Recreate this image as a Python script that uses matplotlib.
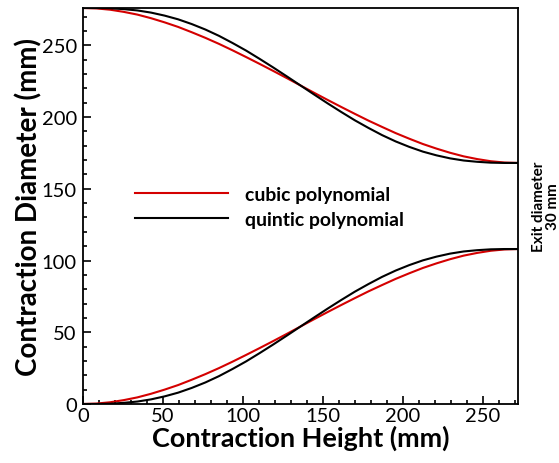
import matplotlib
matplotlib.use("Agg")
import matplotlib.pyplot as plt
from matplotlib.ticker import MultipleLocator

# ── values (mm) ──
height = [0, 8.5, 17, 25.5, 34, 42.5, 51, 59.5, 68, 76.5, 85, 93.5, 102, 110.5,
          119, 127.5, 136, 144.5, 153, 161.5, 170, 178.5, 187, 195.5, 204,
          212.5, 221, 229.5, 238, 246.5, 255, 263.5, 272]

cubic_upper = [276.0, 275.7, 274.8, 273.3, 271.4, 268.9, 266.0, 262.8, 259.1,
               255.2, 251.0, 246.5, 241.8, 237.0, 232.1, 227.1, 222.0, 216.9,
               211.9, 207.0, 202.2, 197.5, 193.1, 188.8, 184.9, 181.2, 178.0,
               175.1, 172.6, 170.7, 169.2, 168.3, 168.0]
quintic_upper = [276.0, 276.0, 275.8, 275.2, 274.3, 272.8, 270.7, 268.1, 264.8,
                 261.0, 256.6, 251.6, 246.3, 240.5, 234.5, 228.3, 222.0, 215.7,
                 209.5, 203.5, 197.7, 192.4, 187.4, 183.0, 179.2, 175.9, 173.3,
                 171.2, 169.7, 168.8, 168.2, 168.0, 168.0]
cubic_lower = [0.0, 0.3, 1.2, 2.7, 4.6, 7.1, 10.0, 13.2, 16.9, 20.8, 25.0, 29.5,
               34.2, 39.0, 43.9, 48.9, 54.0, 59.1, 64.1, 69.0, 73.8, 78.5, 82.9,
               87.2, 91.1, 94.8, 98.0, 100.9, 103.4, 105.3, 106.8, 107.7, 108.0]
quintic_lower = [0.0, 0.0, 0.2, 0.8, 1.7, 3.2, 5.3, 7.9, 11.2, 15.0, 19.4, 24.4,
                 29.7, 35.5, 41.5, 47.7, 54.0, 60.3, 66.5, 72.5, 78.3, 83.6, 88.6,
                 93.0, 96.8, 100.1, 102.7, 104.8, 106.3, 107.2, 107.8, 108.0, 108.0]

RED = "#d40000"
BLACK = "#000000"
FONT = "Lato"

plt.rcParams["font.family"] = [FONT, "DejaVu Sans"]

fig = plt.figure(figsize=(5.59, 4.64), dpi=100)
renderer = fig.canvas.get_renderer()


def fit_size(s, target_px, weight="normal", base=12.0):
    # font size whose rendered width matches the width seen in the reference
    t = fig.text(0, 0, s, fontsize=base, fontweight=weight)
    w = t.get_window_extent(renderer).width
    t.remove()
    return base * target_px / w


tick_fs = fit_size("100", 35)
label_fs = fit_size("Contraction Height (mm)", 296, "bold")
ylabel_fs = fit_size("Contraction Diameter (mm)", 336, "bold")
legend_fs = fit_size("cubic polynomial", 144, "bold")
exit_fs = fit_size("Exit diameter", 90, "bold")

ax = fig.add_axes([0.1485, 0.1272, 0.7782, 0.8534])

ax.plot(height, cubic_upper, color=RED, lw=1.5, label="cubic polynomial")
ax.plot(height, quintic_upper, color=BLACK, lw=1.5, label="quintic polynomial")
ax.plot(height, cubic_lower, color=RED, lw=1.5)
ax.plot(height, quintic_lower, color=BLACK, lw=1.5)

ax.set_xlim(0, 272)
ax.set_ylim(0, 276)

ax.xaxis.set_major_locator(MultipleLocator(50))
ax.xaxis.set_minor_locator(MultipleLocator(10))
ax.yaxis.set_major_locator(MultipleLocator(50))
ax.yaxis.set_minor_locator(MultipleLocator(10))
ax.tick_params(which="both", direction="in", top=False, right=False,
               labelsize=tick_fs, width=1.2)
ax.tick_params(axis="x", pad=2.5)
ax.tick_params(axis="y", pad=4.5)
ax.tick_params(which="major", length=6)
ax.tick_params(which="minor", length=3)
for sp in ax.spines.values():
    sp.set_linewidth(1.3)

ax.set_xlabel("Contraction Height (mm)", fontsize=label_fs, fontweight="bold", labelpad=0)
ax.set_ylabel("Contraction Diameter (mm)", fontsize=ylabel_fs, fontweight="bold", labelpad=-1)

leg = ax.legend(loc="upper left", bbox_to_anchor=(0.12, 0.55), frameon=False,
                borderpad=0, borderaxespad=0,
                handlelength=93 / (legend_fs * 100 / 72), handletextpad=0.85,
                labelspacing=0.38,
                prop={"family": FONT, "weight": "bold", "size": legend_fs})

ax.text(1.064, 0.5, "Exit diameter\n30 mm", transform=ax.transAxes,
        rotation=90, ha="center", va="center", fontsize=exit_fs, fontweight="bold",
        multialignment="center", linespacing=1.0)

fig.savefig("out.png", dpi=100)
